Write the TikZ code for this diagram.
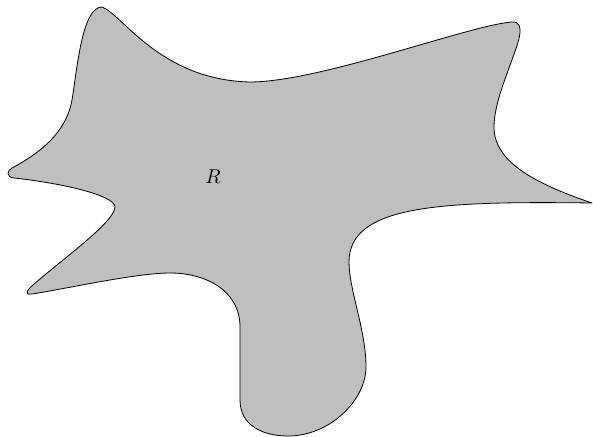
\documentclass[tikz,border=0pt]{standalone}
\usepackage{tikz}
\usetikzlibrary{positioning}

\begin{document}
\begin{tikzpicture}[x=0.5pt, y=-0.5pt, region/.style={draw=black, fill=lightgray, line width=0.4pt, line join=round}]
\useasboundingbox (0,0) rectangle (593,437);
% outline of the region, clockwise from the upper left tip
\draw[region] (102,7)
  .. controls (122,14) and (160,80) .. (250,82)
  .. controls (320,82) and (470,25) .. (512,22)
  .. controls (527,21) and (517.3,44.8) .. (513,57)
  .. controls (506.4,75.8) and (494,105) .. (494,127)
  .. controls (494,160) and (530,182) .. (592,203)
  .. controls (440,201) and (349,205) .. (349,262)
  .. controls (349,290) and (366,330) .. (366,367)
  .. controls (366,400) and (330,436) .. (288,436)
  .. controls (262,436) and (240,425) .. (240,400)
  .. controls (240,380) and (240,345) .. (240,327)
  .. controls (240,290) and (205,273) .. (170,273)
  .. controls (135,273) and (60,290) .. (32,294)
  .. controls (22,295.4) and (29.3,288.3) .. (33,285)
  .. controls (60,261) and (115,222) .. (115,207)
  .. controls (115,195) and (60,183) .. (14,178)
  .. controls (6,177.1) and (6.7,170.8) .. (12,168)
  .. controls (40,153) and (66,133) .. (72,100)
  .. controls (77,70) and (82,7) .. cycle;
\node (regionlabel) at (213,177) {$R$};
\end{tikzpicture}
\end{document}
